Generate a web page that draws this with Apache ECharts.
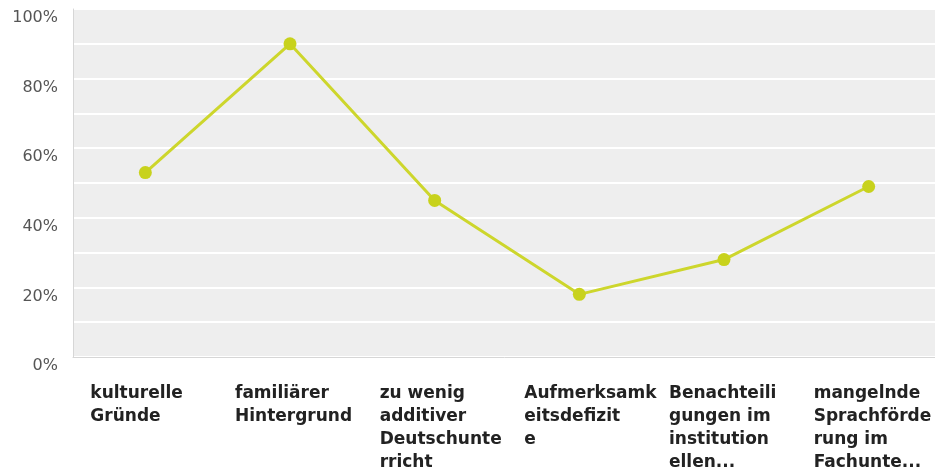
<!DOCTYPE html>
<html>
<head>
<meta charset="utf-8">
<script src="https://cdn.jsdelivr.net/npm/echarts@6/dist/echarts.min.js"></script>
<style>
  html, body { margin: 0; padding: 0; background: #ffffff; }
  #chart { width: 935px; height: 467px; }
</style>
</head>
<body>
<div id="chart"></div>
<script>
// Reasons, wrapped as they appear under the axis
const categories = [
  'kulturelle\nGründe',
  'familiärer\nHintergrund',
  'zu wenig\nadditiver\nDeutschunte\nrricht',
  'Aufmerksamk\neitsdefizit\ne',
  'Benachteili\ngungen im\ninstitution\nellen...',
  'mangelnde\nSprachförde\nrung im\nFachunte...'
];

// Share of answers in percent
const shares = [53, 90, 45, 18, 28, 49];

// Axis range and labelled ticks
const yMin = 0;
const yMax = 100;
const yStep = 10;
const yLabelStep = 20;

const chart = echarts.init(document.getElementById('chart'), null, { renderer: 'canvas' });

const option = {
  animation: false,
  backgroundColor: '#ffffff',
  grid: {
    left: 73,
    width: 868,
    top: 9,
    bottom: 110,
    containLabel: false,
    outerBoundsMode: 'none',
    show: true,
    backgroundColor: '#eeeeee',
    borderWidth: 0
  },
  xAxis: {
    type: 'category',
    data: categories,
    boundaryGap: true,
    axisLine: { show: true, lineStyle: { color: '#d6d6d6', width: 1 } },
    axisTick: { show: false },
    splitLine: { show: false },
    axisLabel: {
      interval: 0,
      margin: 25,
      width: 110,
      align: 'center',
      verticalAlign: 'top',
      formatter: function (v) {
        return v.split('\n').map(function (s) { return '{a|' + s + '}'; }).join('\n');
      },
      rich: {
        a: {
          align: 'left',
          fontFamily: 'DejaVu Sans',
          fontWeight: 'bold',
          fontSize: 17,
          lineHeight: 23,
          color: '#222222'
        }
      }
    }
  },
  yAxis: {
    type: 'value',
    min: yMin,
    max: yMax,
    interval: yStep,
    axisLine: { show: true, lineStyle: { color: '#d6d6d6', width: 1 } },
    axisTick: { show: false },
    splitLine: { show: true, lineStyle: { color: '#ffffff', width: 2 } },
    axisLabel: {
      margin: 15,
      verticalAlign: 'top',
      padding: [1, 0, 0, 0],
      fontFamily: 'DejaVu Sans',
      fontSize: 16,
      color: '#555555',
      formatter: function (v) {
        return v % yLabelStep === 0 ? v + '%' : '';
      }
    }
  },
  series: [{
    type: 'line',
    data: shares,
    symbol: 'circle',
    symbolSize: 13,
    showAllSymbol: true,
    lineStyle: { color: '#cdd62c', width: 3 },
    itemStyle: { color: '#c8d21c' },
    z: 3
  }]
};

chart.setOption(option);
</script>
</body>
</html>
